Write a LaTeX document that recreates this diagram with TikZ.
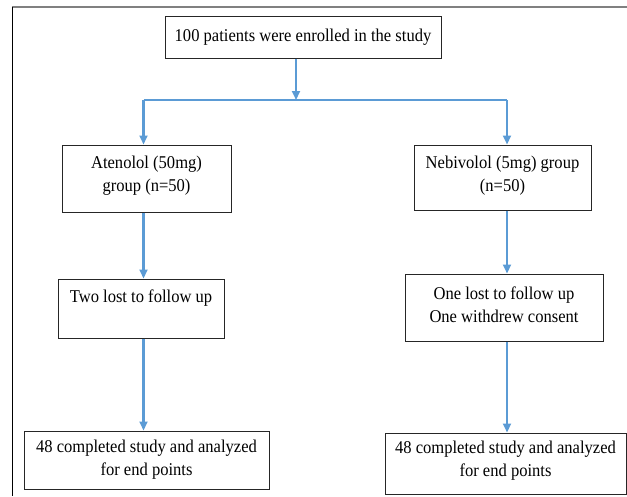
\documentclass[tikz,border=0pt]{standalone}
\usepackage{fontspec}
\setmainfont[FakeStretch=0.92]{Liberation Serif}
\usetikzlibrary{arrows.meta}
\definecolor{arrblue}{HTML}{5B9BD5}
\tikzset{
  box/.style={draw=black!85, line width=1pt, rectangle, inner sep=0pt},
  txt/.style={align=center, font=\fontsize{18}{23}\selectfont, text=black},
  arr/.style={draw=arrblue, line width=2.2pt, -{Triangle[length=9pt,width=8pt]}},
  lin/.style={draw=arrblue, line width=2.2pt},
}
\begin{document}
\begin{tikzpicture}[x=1pt,y=-1pt]
\useasboundingbox (0,0) rectangle (627,496);
% frame
\draw[black!50, line width=2pt] (12,7) -- (627,7);
\draw[black, line width=1pt] (12,7) -- (12,496);

% boxes
\node[box, minimum width=276pt, minimum height=42pt,
  label={[txt]center:100 patients were enrolled in the study}] (top) at (303,37) {};
\node[box, minimum width=169pt, minimum height=67pt,
  label={[txt,yshift=3pt]center:Atenolol (50mg)\\group (n=50)}] (aten) at (146.5,178.5) {};
\node[box, minimum width=177pt, minimum height=65pt,
  label={[txt,yshift=2pt]center:Nebivolol (5mg) group\\(n=50)}] (nebi) at (502.5,177.5) {};
\node[box, minimum width=166pt, minimum height=59pt,
  label={[txt,yshift=10.5pt]center:Two lost to follow up}] (twolost) at (141,308.5) {};
\node[box, minimum width=198pt, minimum height=67pt,
  label={[txt,yshift=3pt]center:One lost to follow up\\One withdrew consent}] (onelost) at (504,307.5) {};
\node[box, minimum width=245pt, minimum height=58pt,
  label={[txt]center:48 completed study and analyzed\\for end points}] (bl) at (146.5,460) {};
\node[box, minimum width=241pt, minimum height=61pt,
  label={[txt,yshift=2.5pt]center:48 completed study and analyzed\\for end points}] (br) at (505.5,463.5) {};

% junction coordinates
\coordinate (j) at (296,100);
\coordinate (jl) at (143.5,100);
\coordinate (jr) at (507,100);

% connectors
\draw[arr] (top.south -| j) -- (j);
\draw[lin] (jl) -- (jr);
\draw[arr] (jl) -- (aten.north -| jl);
\draw[arr] (jr) -- (nebi.north -| jr);
\draw[arr] (aten.south -| jl) -- (twolost.north -| jl);
\draw[arr] (twolost.south -| jl) -- (bl.north -| jl);
\draw[arr] (nebi.south -| jr) -- (onelost.north -| jr);
\draw[arr] (onelost.south -| jr) -- (br.north -| jr);
\end{tikzpicture}
\end{document}
